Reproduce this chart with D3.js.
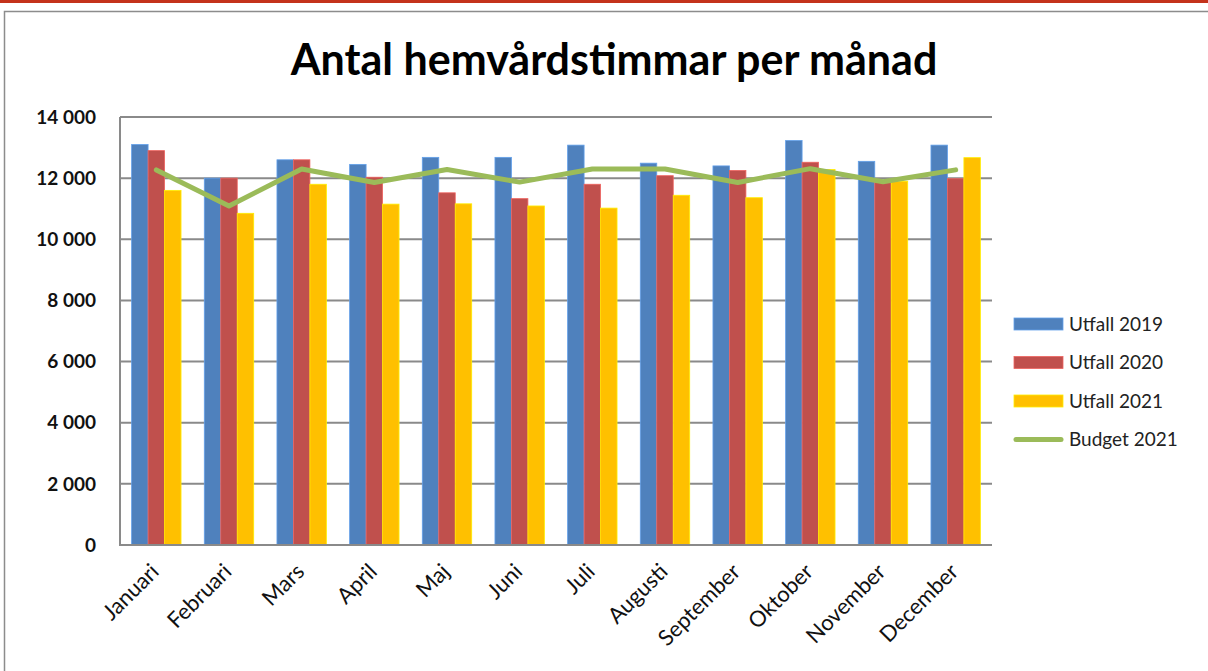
<!DOCTYPE html>
<html>
<head>
<meta charset="utf-8">
<title>Antal hemvårdstimmar per månad</title>
<script src="https://cdn.jsdelivr.net/npm/d3@7/dist/d3.min.js"></script>
<style>
  body { margin: 0; background: #fff; }
  text { font-family: Lato, "Open Sans", sans-serif; }
</style>
</head>
<body>
<svg id="chart" width="1208" height="671"></svg>
<script>
// data
var months = ['Januari', 'Februari', 'Mars', 'April', 'Maj', 'Juni', 'Juli', 'Augusti', 'September', 'Oktober', 'November', 'December'];
var utfall2019 = [13100, 12000, 12600, 12450, 12680, 12680, 13080, 12490, 12400, 13230, 12550, 13080];
var utfall2020 = [12900, 12000, 12600, 12030, 11520, 11330, 11800, 12080, 12250, 12520, 11900, 11980];
var utfall2021 = [11600, 10850, 11800, 11150, 11160, 11090, 11020, 11440, 11360, 12280, 11900, 12670];
var budget2021 = [12270, 11090, 12300, 11860, 12280, 11870, 12300, 12300, 11860, 12310, 11880, 12270];
var yTicks = [0, 2000, 4000, 6000, 8000, 10000, 12000, 14000];

var seriesNames = ['Utfall 2019', 'Utfall 2020', 'Utfall 2021'];
var barColors = ['#4f81bd', '#c0504d', '#ffc000'];
var lineColor = '#9bbb59';

var svg = d3.select('#chart');

// frame like the slide / chart area
svg.append('rect').attr('x', 0).attr('y', 0).attr('width', 1208).attr('height', 3).attr('fill', '#c4321b');
svg.append('path')
  .attr('d', 'M4.5,671 V11.5 H1208')
  .attr('fill', 'none').attr('stroke', '#8c8c8c').attr('stroke-width', 1.5);

var margin = { left: 120, top: 117, right: 992, bottom: 545 };

var x = d3.scaleBand().domain(months).range([margin.left, margin.right]).paddingInner(0.32).paddingOuter(0.16);
var xs = d3.scaleBand().domain(seriesNames).range([0, x.bandwidth()]);
var y = d3.scaleLinear().domain([0, 14000]).range([margin.bottom, margin.top]);

var fmt = function (d) { return d3.format(',')(d).replace(/,/g, ' '); };

// gridlines
svg.append('g')
  .selectAll('line')
  .data(yTicks.filter(d => d > 0))
  .join('line')
  .attr('x1', margin.left).attr('x2', margin.right)
  .attr('y1', d => y(d)).attr('y2', d => y(d))
  .attr('stroke', '#8a8a8a').attr('stroke-width', 2);

// y labels
svg.append('g')
  .selectAll('text')
  .data(yTicks)
  .join('text')
  .attr('x', 96).attr('y', d => y(d))
  .attr('dy', '0.35em')
  .attr('text-anchor', 'end')
  .attr('font-size', 19).attr('font-weight', 'bold').attr('fill', '#111')
  .text(fmt);

// bars
var seriesData = [utfall2019, utfall2020, utfall2021];
seriesData.forEach(function (vals, i) {
  svg.append('g')
    .attr('fill', barColors[i])
    .selectAll('rect')
    .data(vals)
    .join('rect')
    .attr('x', (d, j) => x(months[j]) + xs(seriesNames[i]))
    .attr('y', d => y(d))
    .attr('width', xs.bandwidth())
    .attr('height', d => y(0) - y(d))
    .attr('stroke', d3.color(barColors[i]).brighter(0.6))
    .attr('stroke-width', 0.8);
});

// axes lines
svg.append('path')
  .attr('d', `M${margin.left},${margin.top} V${margin.bottom} H${margin.right}`)
  .attr('fill', 'none').attr('stroke', '#8a8a8a').attr('stroke-width', 2);

// budget line
var line = d3.line()
  .x((d, i) => x(months[i]) + x.bandwidth() / 2)
  .y(d => y(d));

svg.append('path')
  .datum(budget2021)
  .attr('d', line)
  .attr('fill', 'none')
  .attr('stroke', lineColor)
  .attr('stroke-width', 5)
  .attr('stroke-linejoin', 'round')
  .attr('stroke-linecap', 'round');

// x labels, rotated
svg.append('g')
  .selectAll('text')
  .data(months)
  .join('text')
  .attr('transform', d => `translate(${x(d) + x.bandwidth() / 2 + 4},${margin.bottom + 28}) rotate(-45)`)
  .attr('text-anchor', 'end')
  .attr('font-size', 22).attr('fill', '#111')
  .text(d => d);

// title
svg.append('text')
  .attr('x', 614).attr('y', 75)
  .attr('text-anchor', 'middle')
  .attr('font-size', 43).attr('font-weight', 'bold').attr('fill', '#000')
  .text('Antal hemvårdstimmar per månad');

// legend
var legendItems = seriesNames.concat(['Budget 2021']);
var legendColors = barColors.concat([lineColor]);
var lg = svg.append('g')
  .selectAll('g')
  .data(legendItems)
  .join('g')
  .attr('transform', (d, i) => `translate(1014,${324 + i * 38.5})`);

lg.each(function (d, i) {
  var g = d3.select(this);
  if (i < 3) {
    g.append('rect').attr('x', 0).attr('y', -6).attr('width', 49).attr('height', 12)
      .attr('fill', legendColors[i])
      .attr('stroke', d3.color(legendColors[i]).brighter(0.6)).attr('stroke-width', 0.8);
  } else {
    g.append('line').attr('x1', 2).attr('x2', 47).attr('y1', 0).attr('y2', 0)
      .attr('stroke', legendColors[i]).attr('stroke-width', 5).attr('stroke-linecap', 'round');
  }
  g.append('text').attr('x', 55).attr('dy', '0.35em')
    .attr('font-size', 19).attr('fill', '#222')
    .text(d);
});
</script>
</body>
</html>
